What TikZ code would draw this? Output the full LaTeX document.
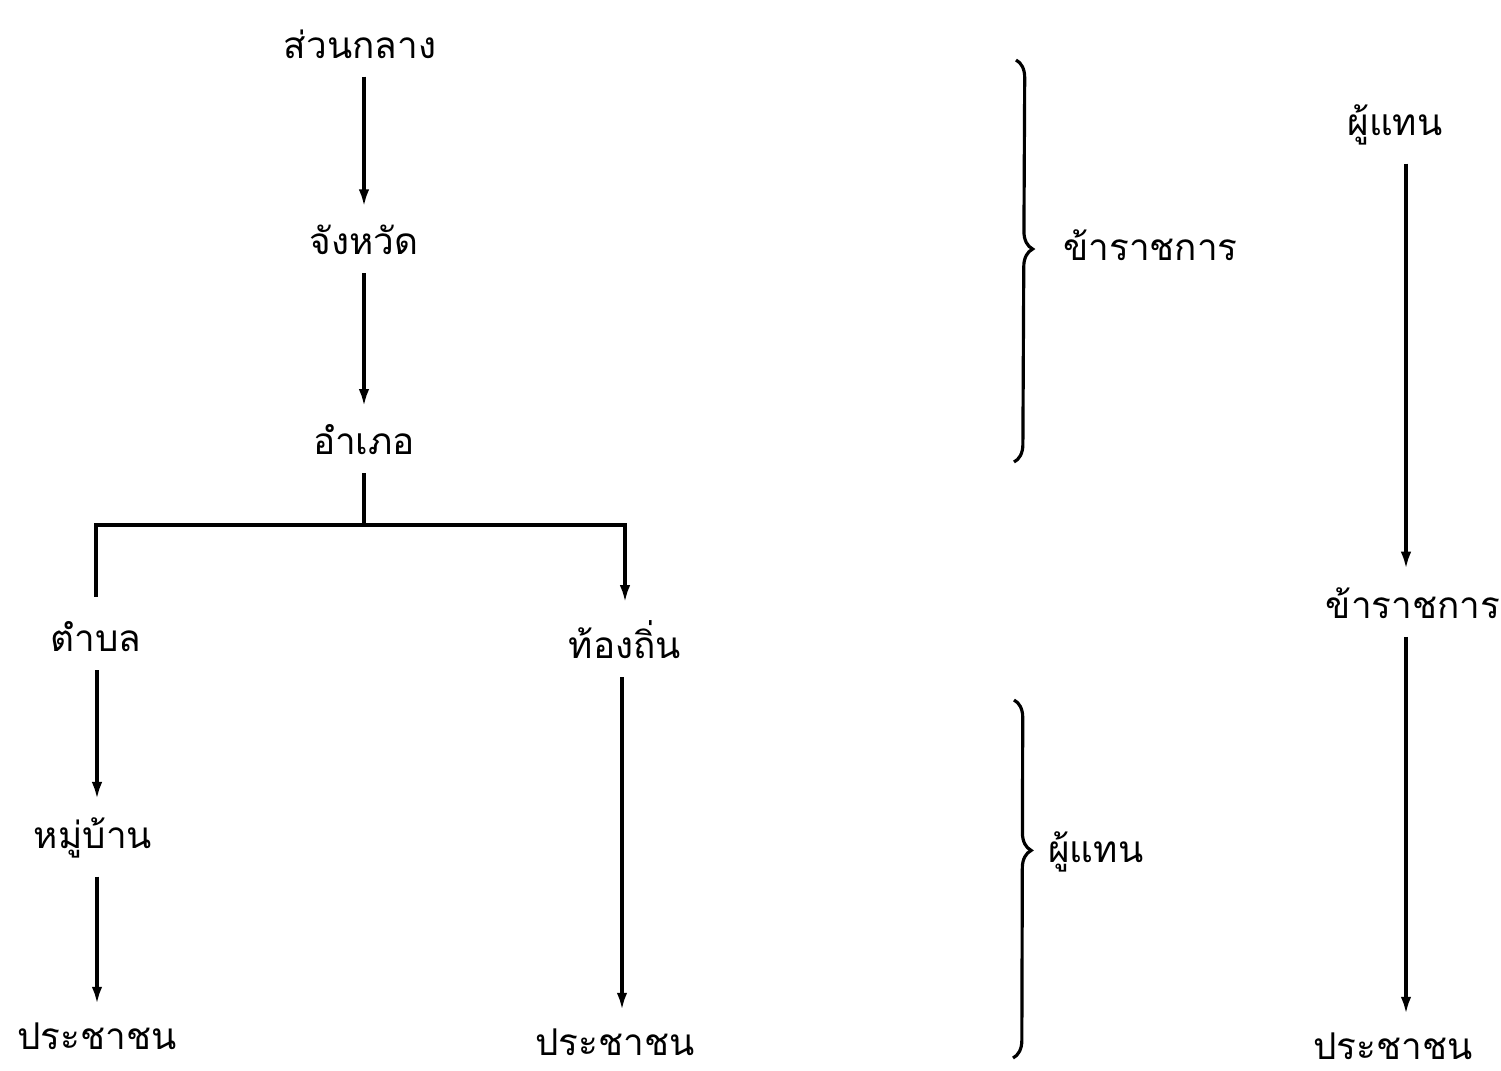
\documentclass[tikz,border=0pt]{standalone}
\usepackage{fontspec}
\newfontfamily\thaifont[Script=Thai]{Loma}
\usetikzlibrary{arrows.meta, decorations.pathreplacing}
\tikzset{
  lbl/.style   = {font=\thaifont\fontsize{10.5}{13}\selectfont, inner sep=5pt},
  arrow/.style = {-{Latex[length=5pt,width=3pt]}, line width=1pt},
  link/.style  = {line width=1pt},
  brc/.style   = {decorate, decoration={brace, amplitude=5pt}, line width=0.9pt},
}
\begin{document}
\begin{tikzpicture}
  \useasboundingbox (0,0) rectangle (15.01,-10.70);
  % left tree
  \node[lbl] (center)  at (3.60,-0.44)  {ส่วนกลาง};
  \node[lbl] (prov)    at (3.64,-2.40)  {จังหวัด};
  \node[lbl] (amphoe)  at (3.64,-4.40)  {อำเภอ};
  \node[lbl] (tambon)  at (0.96,-6.37)  {ตำบล};
  \node[lbl] (local)   at (6.25,-6.40)  {ท้องถิ่น};
  \node[lbl] (village) at (0.93,-8.38)  {หมู่บ้าน};
  \node[lbl] (peopleA) at (0.97,-10.36) {ประชาชน};
  \node[lbl] (peopleB) at (6.15,-10.42) {ประชาชน};
  \coordinate (fork) at (3.64,-5.25);

  \draw[arrow] (center.south -| prov) -- (prov.north);
  \draw[arrow] (prov) -- (amphoe);
  \draw[link] (amphoe) -- (fork);
  \draw[link, shorten <=2pt] (tambon.north) |- (fork);
  \draw[arrow] (fork) -| (local.north);
  \draw[arrow] (tambon.south -| 0.97,0) -- (village.north -| 0.97,0);
  \draw[arrow] (village.south -| 0.97,0) -- (peopleA.north -| 0.97,0);
  \draw[arrow] (local.south -| 6.22,0) -- (peopleB.north -| 6.22,0);

  % braces
  \coordinate (braAt) at (10.16,-0.60);
  \coordinate (braAb) at (10.14,-4.62);
  \coordinate (braBt) at (10.14,-7.00);
  \coordinate (braBb) at (10.13,-10.58);
  \draw[brc, decoration={aspect=0.47}] (braAt) -- (braAb);
  \draw[brc, decoration={aspect=0.42}] (braBt) -- (braBb);
  \node[lbl, anchor=west] (civlbl) at (10.45,-2.45) {ข้าราชการ};
  \node[lbl, anchor=west] (replbl) at (10.30,-8.52) {ผู้แทน};

  % right column
  \node[lbl] (rep)     at (13.95,-1.25)  {ผู้แทน};
  \node[lbl] (civil)   at (14.13,-6.03)  {ข้าราชการ};
  \node[lbl, inner ysep=1pt] (peopleC) at (13.93,-10.46) {ประชาชน};
  \draw[arrow] (rep.south -| 14.06,0) -- (civil.north -| 14.06,0);
  \draw[arrow, shorten >=4pt] (civil.south -| 14.06,0) -- (peopleC.north -| 14.06,0);
\end{tikzpicture}
\end{document}
